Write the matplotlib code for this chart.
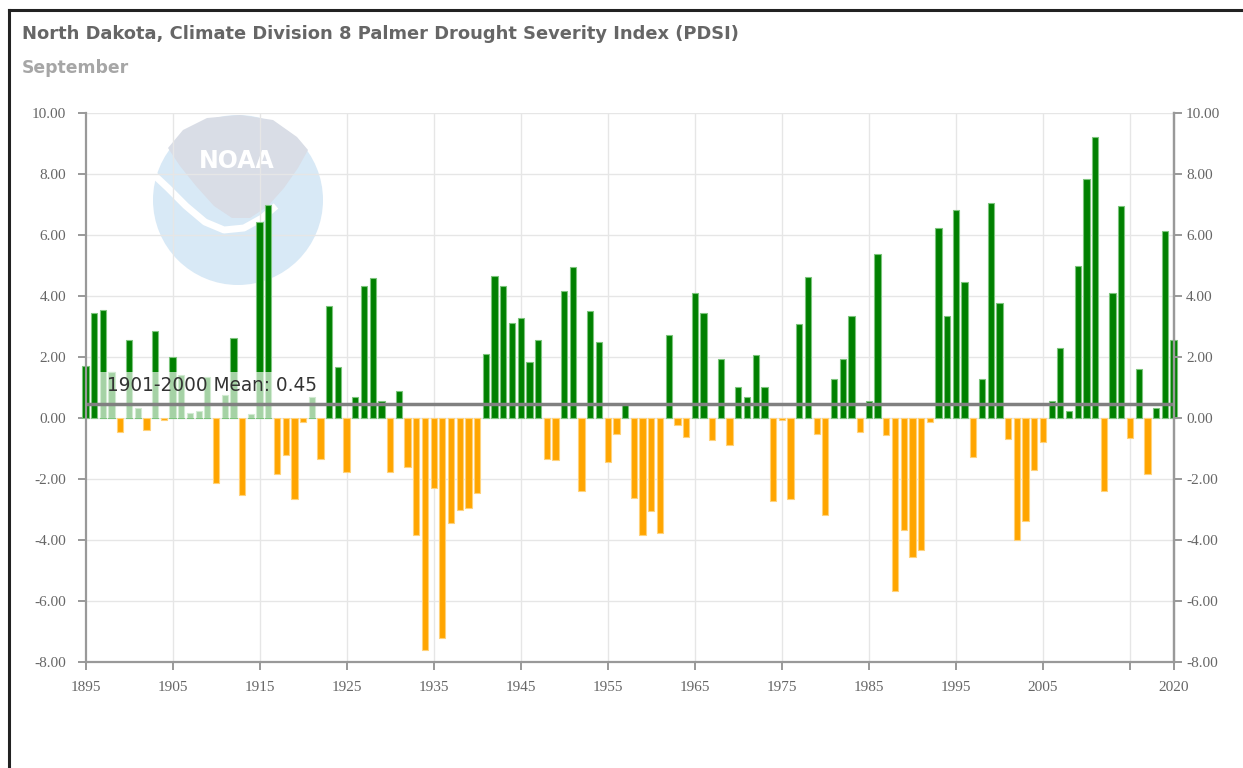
import matplotlib
matplotlib.use("Agg")
import matplotlib.pyplot as plt
import numpy as np
from matplotlib.patches import Circle, Polygon, Rectangle
from matplotlib.lines import Line2D

years = list(range(1895, 2021))
pdsi = [
    1.72, 3.44, 3.55, 1.50, -0.45, 2.56, 0.34, -0.39, 2.84, -0.07,   # 1895-1904
    2.01, 1.42, 0.15, 0.22, 1.33, -2.12, 0.75, 2.62, -2.51, 0.12,    # 1905-1914
    6.44, 6.99, -1.84, -1.21, -2.67, -0.12, 0.70, -1.33, 3.67, 1.67, # 1915-1924
    -1.78, 0.68, 4.33, 4.59, 0.56, -1.78, 0.88, -1.61, -3.84, -7.61, # 1925-1934
    -2.28, -7.21, -3.43, -3.01, -2.95, -2.45, 2.11, 4.65, 4.33, 3.12, # 1935-1944
    3.27, 1.84, 2.56, -1.33, -1.39, 4.17, 4.95, -2.39, 3.50, 2.50,   # 1945-1954
    -1.45, -0.51, 0.42, -2.61, -3.84, -3.05, -3.78, 2.72, -0.24, -0.63, # 1955-1964
    4.11, 3.44, -0.73, 1.95, -0.90, 1.01, 0.68, 2.06, 1.01, -2.72,   # 1965-1974
    -0.07, -2.67, 3.07, 4.61, -0.51, -3.18, 1.28, 1.95, 3.35, -0.45, # 1975-1984
    0.56, 5.39, -0.56, -5.66, -3.66, -4.57, -4.34, -0.12, 6.22, 3.33, # 1985-1994
    6.82, 4.45, -1.27, 1.27, 7.04, 3.77, -0.70, -4.00, -3.39, -1.72, # 1995-2004
    -0.79, 0.57, 2.28, 0.23, 5.00, 7.84, 9.22, -2.39, 4.11, 6.95,    # 2005-2014
    -0.67, 1.61, -1.84, 0.34, 6.12, 2.55                              # 2015-2020
]
assert len(pdsi) == len(years)

mean_value = 0.45
mean_label = "1901-2000 Mean: 0.45"
title = "North Dakota, Climate Division 8 Palmer Drought Severity Index (PDSI)"
subtitle = "September"
x_ticks = [1895, 1905, 1915, 1925, 1935, 1945, 1955, 1965, 1975, 1985, 1995, 2005, 2015, 2020]
x_ticklabels = ["1895", "1905", "1915", "1925", "1935", "1945", "1955", "1965",
                "1975", "1985", "1995", "2005", "", "2020"]
x_grid = [1905, 1915, 1925, 1935, 1945, 1955, 1965, 1975, 1985, 1995, 2005, 2015]
y_ticks = [-8, -6, -4, -2, 0, 2, 4, 6, 8, 10]

W, H = 1243, 768
fig = plt.figure(figsize=(W / 100, H / 100), dpi=100)
fig.patch.set_facecolor("white")
renderer = fig.canvas.get_renderer()


def fit_width(txt, target_px):
    bb = txt.get_window_extent(renderer=renderer)
    txt.set_fontsize(txt.get_fontsize() * target_px / bb.width)


# background overlay (pixel coordinates) for border + watermark
bg = fig.add_axes([0, 0, 1, 1], zorder=0)
bg.set_xlim(0, W)
bg.set_ylim(H, 0)
bg.axis("off")

# frame lines
bg.add_line(Line2D([9, W], [10, 10], color="#222222", lw=2.2))
bg.add_line(Line2D([9, 9], [10, H], color="#222222", lw=2.2))

# NOAA watermark (approximation)
bg.add_patch(Circle((238, 200), 85, facecolor="#d8e9f6", edgecolor="none"))
bird = [(168, 148), (183, 130), (207, 118), (240, 115), (273, 120), (297, 137),
        (308, 150), (298, 168), (284, 188), (268, 206), (250, 218), (232, 218),
        (214, 206), (196, 186), (180, 166)]
bg.add_patch(Polygon(bird, closed=True, facecolor="#d9dde6", edgecolor="none"))
wx = np.array([152, 168, 186, 205, 224, 244, 262, 276])
wy = np.array([173, 188, 206, 222, 230, 228, 218, 206])
bg.plot(wx, wy, color="white", lw=5, solid_capstyle="butt")
bg.text(237, 161, "NOAA", color="white", fontsize=17, fontweight="bold",
        ha="center", va="center", family="DejaVu Sans")

# titles
t1 = fig.text(22 / W, 1 - 34 / H, title, fontsize=12, fontweight="bold",
              color="#666666", family="DejaVu Sans", ha="left", va="center")
fit_width(t1, 716)
t2 = fig.text(22 / W, 1 - 68 / H, subtitle, fontsize=12, fontweight="bold",
              color="#a6a6a6", family="DejaVu Sans", ha="left", va="center")
fit_width(t2, 107)

# main axes
left, right, top, bottom = 85.5, 1173.5, 113, 662
ax = fig.add_axes([left / W, 1 - bottom / H, (right - left) / W, (bottom - top) / H], zorder=2)
ax.set_facecolor("none")
ax.set_xlim(1895, 2020)
ax.set_ylim(-8, 10)

vals = np.array(pdsi)
colors = np.where(vals >= 0, "#008000", "#FFA500")
edges = np.where(vals >= 0, "#7cc47c", "#ffd27a")
ax.bar(years, vals, width=0.72, color=colors, edgecolor=edges, linewidth=0.8,
       zorder=3, clip_on=False)

# grid
for g in x_grid:
    ax.axvline(g, color="#e6e6e6", lw=1, zorder=1)
for t in y_ticks:
    ax.axhline(t, color="#e6e6e6", lw=1, zorder=1)

# label background that washes out bars under it
ax.add_patch(Rectangle((1896.6, 0.0), 25.9, 1.5, facecolor="white", alpha=0.65,
                       edgecolor="none", zorder=4))
ax.axhline(mean_value, color="#808080", lw=2.5, zorder=5)
t3 = ax.text(1897.45, 1.05, mean_label, fontsize=12.5, color="#333333",
             family="DejaVu Sans", ha="left", va="center", zorder=6)
fit_width(t3, 211)

ax.spines["top"].set_visible(False)
for s in ["left", "right", "bottom"]:
    ax.spines[s].set_color("#999999")
    ax.spines[s].set_linewidth(1.6)
    ax.spines[s].set_zorder(6)

ax.set_xticks(x_ticks)
ax.set_xticklabels(x_ticklabels)
ax.set_yticks(y_ticks)
ax.set_yticklabels([f"{t:.2f}" for t in y_ticks])
ax.tick_params(axis="both", colors="#999999", length=6, width=1.4, labelcolor="#666666",
               labelsize=11)
ax.tick_params(axis="x", pad=8)
ax.tick_params(axis="y", pad=8)
for lab in ax.get_xticklabels() + ax.get_yticklabels():
    lab.set_family("Liberation Serif")

ax2 = ax.twinx()
ax2.set_ylim(-8, 10)
ax2.set_yticks(y_ticks)
ax2.set_yticklabels([f"{t:.2f}" for t in y_ticks])
ax2.tick_params(axis="y", colors="#999999", length=6, width=1.4, labelcolor="#666666",
                labelsize=11, pad=3)
for lab in ax2.get_yticklabels():
    lab.set_family("Liberation Serif")
for s in ["top", "left", "bottom"]:
    ax2.spines[s].set_visible(False)
ax2.spines["right"].set_color("#999999")
ax2.spines["right"].set_linewidth(1.6)

fig.savefig("out.png", dpi=100)
